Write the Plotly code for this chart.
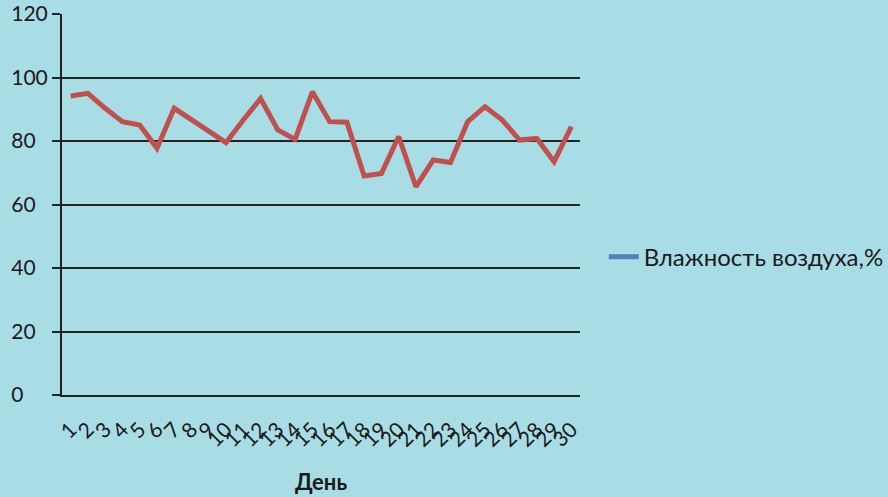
import plotly.graph_objects as go

days = list(range(1, 31))
day_labels = [str(d) for d in days]
humidity = [94.2, 95.0, 90.3, 86.1, 85.0, 77.7, 90.3, 86.6, 82.9, 79.5,
            86.6, 93.4, 83.5, 80.5, 95.5, 86.1, 85.9, 69.0, 69.8, 81.4,
            65.6, 74.0, 73.2, 86.1, 90.8, 86.6, 80.3, 80.8, 73.5, 84.5]
y_ticks = [0, 20, 40, 60, 80, 100, 120]
series_name = "Влажность воздуха,%"
x_title = "День"

FONT = "Lato"

# labels are left-aligned in the reference: pad with figure spaces
max_len = max(len(str(v)) for v in y_ticks)
y_tick_text = [str(v) + "\u2007" * (max_len - len(str(v))) for v in y_ticks]

fig = go.Figure()
fig.add_trace(go.Scatter(
    x=days, y=humidity, mode="lines",
    line=dict(color="#c0504d", width=5),
    showlegend=False, name=series_name,
))
# legend entry (reference legend shows a blue key)
fig.add_trace(go.Scatter(
    x=[None], y=[None], mode="lines",
    line=dict(color="#4f81bd", width=5),
    name=series_name, showlegend=True,
))

fig.update_layout(
    width=888, height=497,
    margin=dict(l=62, r=308, t=14, b=102, autoexpand=False),
    paper_bgcolor="#a9dde6",
    plot_bgcolor="rgba(0,0,0,0)",
    font=dict(family=FONT, size=20, color="#1a1a1a"),
    legend=dict(
        x=1.046, y=0.362, xanchor="left", yanchor="middle",
        xref="paper", yref="paper",
        bgcolor="rgba(0,0,0,0)",
        font=dict(family=FONT, size=24, color="#1a1a1a"),
        itemwidth=30,
    ),
    xaxis=dict(
        range=[0.5, 30.5],
        tickmode="array", tickvals=days, ticktext=day_labels,
        tickangle=-45,
        automargin=False,
        showgrid=False, zeroline=False,
        showline=True, linecolor="#222222", linewidth=2,
        ticks="", ticklen=0,
        ticklabelstandoff=12,
        tickfont=dict(family=FONT, size=21, color="#1a1a1a"),
        title=dict(text="<b>" + x_title + "</b>", font=dict(family=FONT, size=22, color="#1a1a1a"), standoff=24),
    ),
    yaxis=dict(
        range=[0, 120],
        tickmode="array", tickvals=y_ticks, ticktext=y_tick_text,
        automargin=False,
        showgrid=True, gridcolor="#222222", gridwidth=2,
        zeroline=False,
        showline=True, linecolor="#222222", linewidth=2,
        ticks="outside", ticklen=8, tickcolor="#222222", tickwidth=2,
        tickfont=dict(family=FONT, size=21, color="#1a1a1a"),
    ),
)

fig.write_html("out.html", config={"displayModeBar": False},
               post_script="document.body.style.margin='0';")
